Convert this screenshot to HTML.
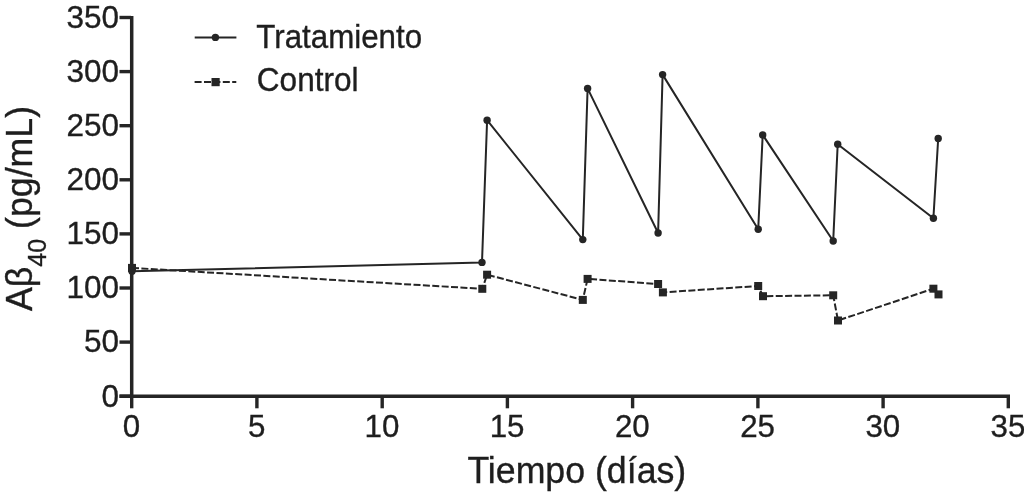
<!DOCTYPE html>
<html lang="es"><head><meta charset="utf-8"><title>Aβ40 — Tratamiento vs Control</title>
<style>
html,body{margin:0;padding:0;background:#fff;}
body{width:1024px;height:500px;overflow:hidden;font-family:"Liberation Sans",sans-serif;}
svg{display:block}
text{font-family:"Liberation Sans",sans-serif;fill:#1e1e1e;stroke:#1e1e1e;stroke-width:0.35px}
</style></head><body>
<svg width="1024" height="500" viewBox="0 0 1024 500">
<rect width="1024" height="500" fill="#fff"/>

<g stroke="#252525" stroke-width="3.5" fill="none" stroke-linecap="butt">
<path d="M131.7 15.9 V398"/>
<path d="M119.5 396.2 H1010"/>
</g>
<g stroke="#252525" stroke-width="3.4" fill="none">
<path d="M119.5 396.2 H131"/>
<path d="M119.5 342.1 H131"/>
<path d="M119.5 288.0 H131"/>
<path d="M119.5 233.9 H131"/>
<path d="M119.5 179.8 H131"/>
<path d="M119.5 125.7 H131"/>
<path d="M119.5 71.6 H131"/>
<path d="M119.5 17.5 H131"/>
<path d="M131.7 396 V408.3"/>
<path d="M256.9 396 V408.3"/>
<path d="M382.2 396 V408.3"/>
<path d="M507.4 396 V408.3"/>
<path d="M632.6 396 V408.3"/>
<path d="M757.9 396 V408.3"/>
<path d="M883.1 396 V408.3"/>
<path d="M1008.3 396 V408.3"/>
</g>
<g font-size="31.5" text-anchor="end">
<text x="119" y="406.5">0</text>
<text x="119" y="352.4">50</text>
<text x="119" y="298.3">100</text>
<text x="119" y="244.2">150</text>
<text x="119" y="190.1">200</text>
<text x="119" y="136.0">250</text>
<text x="119" y="81.9">300</text>
<text x="119" y="27.8">350</text>
</g>
<g font-size="31.3" text-anchor="middle">
<text x="131.4" y="437.1">0</text>
<text x="256.6" y="437.1">5</text>
<text x="381.9" y="437.1">10</text>
<text x="507.1" y="437.1">15</text>
<text x="632.3" y="437.1">20</text>
<text x="757.6" y="437.1">25</text>
<text x="882.8" y="437.1">30</text>
<text x="1008.0" y="437.1">35</text>
</g>
<text transform="translate(576.8,482.8) scale(1,1.04)" font-size="35.7" text-anchor="middle">Tiempo (días)</text>
<text transform="translate(31.6,311) rotate(-90) scale(1,1.04)" font-size="35.7">Aβ<tspan font-size="25" dy="13.8">40</tspan><tspan dy="-13.8"> (pg/mL)</tspan></text>
<polyline points="132,267.9 482.3,288.8 487.1,274.7 582.8,299.9 587.6,278.9 658.1,284 662.9,292.4 758.2,286 763,296.2 833.2,295.3 838,320.5 933.4,288.7 938.5,294.4" fill="none" stroke="#252525" stroke-width="2" stroke-dasharray="7 2.4"/>
<polyline points="132,271.3 482,262.4 487.1,120.2 582.8,239.6 587.6,88.4 658.1,233 662.6,74.6 758.2,229.3 762.7,134.9 833.2,241 837.7,144.2 933.4,218.2 938.2,138.5" fill="none" stroke="#252525" stroke-width="2" stroke-linejoin="round"/>
<g fill="#252525">
<rect x="128.0" y="263.9" width="8" height="8"/>
<rect x="478.3" y="284.8" width="8" height="8"/>
<rect x="483.1" y="270.7" width="8" height="8"/>
<rect x="578.8" y="295.9" width="8" height="8"/>
<rect x="583.6" y="274.9" width="8" height="8"/>
<rect x="654.1" y="280.0" width="8" height="8"/>
<rect x="658.9" y="288.4" width="8" height="8"/>
<rect x="754.2" y="282.0" width="8" height="8"/>
<rect x="759.0" y="292.2" width="8" height="8"/>
<rect x="829.2" y="291.3" width="8" height="8"/>
<rect x="834.0" y="316.5" width="8" height="8"/>
<rect x="929.4" y="284.7" width="8" height="8"/>
<rect x="934.5" y="290.4" width="8" height="8"/>
<circle cx="132" cy="271.3" r="3.7"/>
<circle cx="482" cy="262.4" r="3.7"/>
<circle cx="487.1" cy="120.2" r="3.7"/>
<circle cx="582.8" cy="239.6" r="3.7"/>
<circle cx="587.6" cy="88.4" r="3.7"/>
<circle cx="658.1" cy="233" r="3.7"/>
<circle cx="662.6" cy="74.6" r="3.7"/>
<circle cx="758.2" cy="229.3" r="3.7"/>
<circle cx="762.7" cy="134.9" r="3.7"/>
<circle cx="833.2" cy="241" r="3.7"/>
<circle cx="837.7" cy="144.2" r="3.7"/>
<circle cx="933.4" cy="218.2" r="3.7"/>
<circle cx="938.2" cy="138.5" r="3.7"/>
</g>
<path d="M194.7 37.4 H236.4" stroke="#252525" stroke-width="2"/>
<circle cx="215.4" cy="37.4" r="3.7" fill="#252525"/>
<path d="M194.6 82 H236.3" stroke="#252525" stroke-width="2" stroke-dasharray="7 2.4"/>
<rect x="211.5" y="78" width="8.2" height="8.2" fill="#252525"/>
<text transform="translate(256.3,48) scale(1,1.035)" font-size="31.3">Tratamiento</text>
<text transform="translate(256.8,90.7) scale(1,1.035)" font-size="31.6">Control</text>
</svg></body></html>
